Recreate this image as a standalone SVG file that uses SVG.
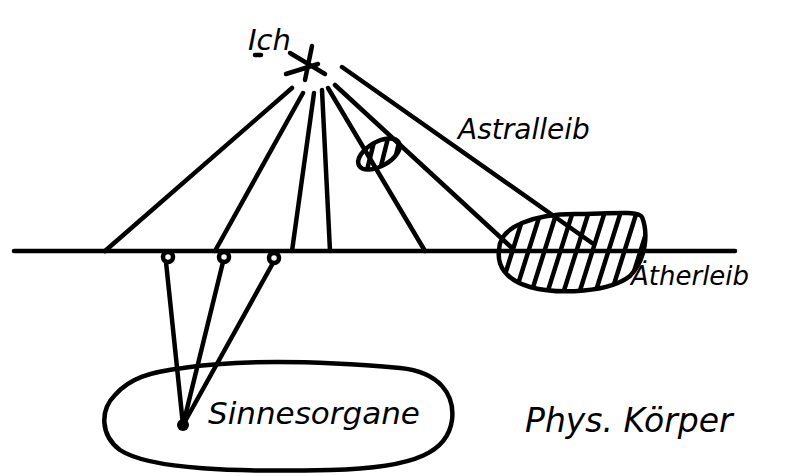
<svg xmlns="http://www.w3.org/2000/svg" width="787" height="476" viewBox="0 0 787 476">
<style>
.s{fill:none;stroke:#000;stroke-width:4.5;stroke-linecap:round;stroke-linejoin:round}
.t{font-family:"DejaVu Sans","Open Sans",sans-serif;font-style:italic;fill:#000}
</style>
<defs>
<clipPath id="cAether"><path d="M 499,250 C 499,226 535,214 575,214 C 605,214 638,210 642,217 C 648,232 647,258 630,276 C 610,292 560,295 530,287 C 505,280 497,265 499,250 Z"/></clipPath>
<clipPath id="cSmall"><ellipse cx="379" cy="154" rx="23" ry="12" transform="rotate(-30 379 154)"/></clipPath>
</defs>
<rect width="787" height="476" fill="#fff"/>
<g id="connectors">
<line class="s" x1="14" y1="251" x2="735" y2="251"/>
<line class="s" x1="292" y1="88" x2="105" y2="251"/>
<line class="s" x1="303" y1="93" x2="215" y2="251"/>
<line class="s" x1="314" y1="93" x2="292" y2="251"/>
<line class="s" x1="322" y1="90" x2="330" y2="251"/>
<line class="s" x1="328" y1="88" x2="425" y2="251"/>
<line class="s" x1="335" y1="85" x2="512" y2="248"/>
<line class="s" x1="342" y1="67" x2="592" y2="243"/>
<line class="s" x1="166" y1="262" x2="183" y2="425"/>
<line class="s" x1="223" y1="262" x2="183" y2="425"/>
<line class="s" x1="273" y1="263" x2="183" y2="425"/>
</g>
<g id="ich">
<path class="s" stroke-width="5.5" d="M 290,53 L 325,74 M 312,46 L 305,80 M 286,74 L 318,64"/>
<text class="t" x="248" y="50" font-size="29">Ich</text>
<line class="s" x1="255" y1="55" x2="261" y2="55" stroke-width="2.5"/>
</g>
<g id="astralleib">
<ellipse class="s" cx="379" cy="154" rx="23" ry="12" transform="rotate(-30 379 154)"/>
<g clip-path="url(#cSmall)"><path class="s" stroke-width="4" d="M 366,174 L 376,134 M 379,174 L 389,134 M 392,172 L 401,134"/></g>
<text class="t" x="458" y="139" font-size="28">Astralleib</text>
</g>
<g id="aetherleib">
<g clip-path="url(#cAether)"><path class="s" stroke-width="5" d="M 497,300 L 527,205 M 513,300 L 543,205 M 529,300 L 559,205 M 545,300 L 575,205 M 561,300 L 591,205 M 577,300 L 607,205 M 593,300 L 623,205 M 609,300 L 639,205 M 625,300 L 655,205"/></g>
<path class="s" d="M 499,250 C 499,226 535,214 575,214 C 605,214 638,210 642,217 C 648,232 647,258 630,276 C 610,292 560,295 530,287 C 505,280 497,265 499,250 Z"/>
<text class="t" x="631" y="285" font-size="26">Ätherleib</text>
</g>
<g id="sinnes">
<circle class="s" cx="168" cy="257" r="5" stroke-width="3.5"/>
<circle class="s" cx="224" cy="257" r="5" stroke-width="3.5"/>
<circle class="s" cx="274" cy="258" r="5" stroke-width="3.5"/>
</g>
<g id="sinnesorgane">
<path class="s" d="M 183,368 C 250,358 330,362 400,368 C 440,372 455,395 452,420 C 448,450 420,468 330,470 C 240,472 150,470 120,450 C 100,435 100,410 115,395 C 130,378 150,372 183,368 Z"/>
<circle cx="183" cy="425" r="6" fill="#000"/>
<text class="t" x="208" y="424" font-size="31">Sinnesorgane</text>
</g>
<g id="koerper">
<text class="t" x="525" y="432" font-size="33">Phys. Körper</text>
</g>
</svg>
